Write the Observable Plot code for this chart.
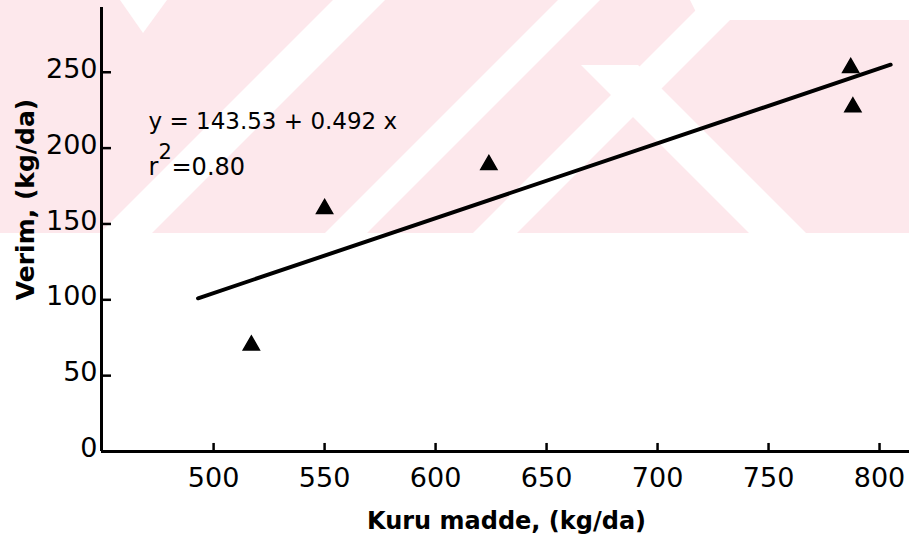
<!DOCTYPE html>
<html><head><meta charset="utf-8">
<script src="https://cdn.jsdelivr.net/npm/d3@7"></script>
<script src="https://cdn.jsdelivr.net/npm/@observablehq/plot@0.6"></script>
<style>
html,body{margin:0;padding:0;background:#fff;}
#wrap{position:relative;width:909px;height:546px;overflow:hidden;}
#bg{position:absolute;left:0;top:0;}
#chart{position:absolute;left:0;top:0;}
</style></head><body>
<div id="wrap">
<svg id="bg" width="909" height="546">
  <defs><clipPath id="band"><rect x="0" y="0" width="909" height="233"/></clipPath></defs>
  <g clip-path="url(#band)">
    <rect x="0" y="0" width="909" height="233" fill="#fde8ec"/>
    <polygon points="120,0 167,0 143,33" fill="#fff"/>
    <polygon points="333,0 385,0 152,233 100,233" fill="#fff"/>
    <polygon points="558,0 600,0 367,233 325,233" fill="#fff"/>
    <polygon points="706,0 750,0 517,233 473,233" fill="#fff"/>
    <polygon points="581,65 638,65 806,233 749,233" fill="#fff"/>
    <polygon points="690,0 909,0 909,20 700,20" fill="#fff"/>
  </g>
</svg>
<div id="chart"></div>
</div>
<script>
// data
const kuruMadde = [517, 550, 624, 787, 788];   // x: Kuru madde (kg/da)
const verim     = [70, 160, 189, 253, 227];    // y: Verim (kg/da)
const lineX = [493, 805];                      // regression line ends
const lineY = [101, 255];
const xTicks = [500, 550, 600, 650, 700, 750, 800];
const yTicks = [0, 50, 100, 150, 200, 250];
const xTitle = "Kuru madde, (kg/da)";
const yTitle = "Verim, (kg/da)";
const equation = "y = 143.53 + 0.492 x";
const rLabel = "r";
const rSup = "2";
const rValue = "=0.80";

const points = kuruMadde.map((x, i) => ({x, y: verim[i]}));
const fit = lineX.map((x, i) => ({x, y: lineY[i]}));
const xMin = 449.5, xMax = 813.5, yMax = 292.7;
const font = "DejaVu Sans";

const chart = Plot.plot({
  width: 909, height: 546,
  marginLeft: 101, marginRight: 0, marginTop: 7, marginBottom: 95,
  x: {domain: [xMin, xMax]},
  y: {domain: [0, yMax]},
  style: {background: "transparent", fontFamily: font, color: "#000"},
  marks: [
    Plot.ruleY([0], {stroke: "#000", strokeWidth: 3}),
    Plot.ruleX([xMin], {stroke: "#000", strokeWidth: 3, y1: 0, y2: yMax}),
    Plot.ruleX(xTicks, {x: d => d, y1: 0, y2: 5.3, stroke: "#000", strokeWidth: 2.5}),
    Plot.ruleY(yTicks.slice(1), {y: d => d, x1: xMin, x2: xMin + 4.5, stroke: "#000", strokeWidth: 2.5}),
    Plot.axisX(xTicks, {tickSize: 0, tickPadding: 16, fontSize: 27, label: null, fill: "#000"}),
    Plot.axisY(yTicks, {tickSize: 0, tickPadding: 4, fontSize: 27, label: null, dy: -3, fill: "#000"}),
    Plot.text([xTitle], {frameAnchor: "bottom", dx: 1, dy: 77, fontSize: 24, fill: "#000", fontWeight: "bold"}),
    Plot.text([yTitle], {frameAnchor: "left", textAnchor: "middle", lineAnchor: "middle", rotate: -90, dx: -76, dy: -30, fontSize: 25, fill: "#000", fontWeight: "bold"}),
    Plot.line(fit, {x: "x", y: "y", stroke: "#000", strokeWidth: 4}),
    Plot.dot(points, {x: "x", y: "y", symbol: "triangle", r: 6, fill: "#000", stroke: "#000", strokeWidth: 1.5}),
    Plot.text([equation], {frameAnchor: "top-left", lineAnchor: "middle", dx: 47, dy: 114, textAnchor: "start", fontSize: 23, fill: "#000"}),
    Plot.text([rLabel], {frameAnchor: "top-left", lineAnchor: "middle", dx: 47, dy: 160, textAnchor: "start", fontSize: 24, fill: "#000"}),
    Plot.text([rSup], {frameAnchor: "top-left", lineAnchor: "middle", dx: 57, dy: 145, textAnchor: "start", fontSize: 21, fill: "#000"}),
    Plot.text([rValue], {frameAnchor: "top-left", lineAnchor: "middle", dx: 70, dy: 160, textAnchor: "start", fontSize: 24, fill: "#000"})
  ]
});
document.getElementById("chart").appendChild(chart);
</script>
</body></html>
